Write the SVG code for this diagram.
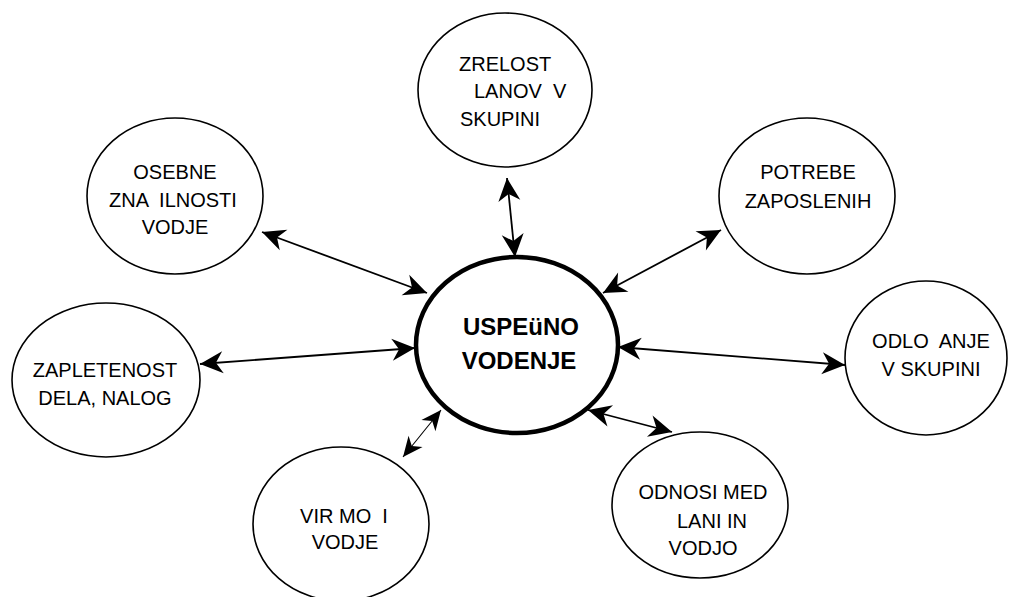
<svg xmlns="http://www.w3.org/2000/svg" width="1009" height="597" viewBox="0 0 1009 597">
<style>
.n{fill:#fff;stroke:#000;stroke-width:1.6}
.c{fill:#fff;stroke:#000;stroke-width:4.5}
text{font-family:"Liberation Sans",Arial,sans-serif;font-size:20px;fill:#000;white-space:pre}
.m{text-anchor:middle}
.b{font-weight:bold;font-size:24px;text-anchor:middle}
.l{fill:none;stroke:#000;stroke-width:1.8;marker-start:url(#a);marker-end:url(#a)}
.s{fill:none;stroke:#000;stroke-width:1.1;marker-start:url(#a2);marker-end:url(#a2)}
</style>
<defs>
<marker id="a" markerUnits="userSpaceOnUse" orient="auto-start-reverse" refX="0" refY="0" markerWidth="40" markerHeight="40" overflow="visible">
<path d="M0,0 L-23,-11 L-16,0 L-23,11 Z" fill="#000"/>
</marker>
<marker id="a2" markerUnits="userSpaceOnUse" orient="auto-start-reverse" refX="0" refY="0" markerWidth="40" markerHeight="40" overflow="visible">
<path d="M0,0 L-20,-9 L-14,0 L-20,9 Z" fill="#000"/>
</marker>
</defs>
<rect width="1009" height="597" fill="#fff"/>
<g id="connectors">
<line class="l" x1="507" y1="178" x2="515" y2="257"/>
<line class="l" x1="262" y1="232" x2="427" y2="293"/>
<line class="l" x1="721" y1="230" x2="603" y2="293"/>
<line class="l" x1="618" y1="347" x2="845" y2="365"/>
<line class="l" x1="588" y1="410" x2="672" y2="432"/>
<line class="s" x1="403" y1="457" x2="441" y2="410"/>
<line class="l" x1="200" y1="364" x2="415" y2="348"/>
</g>
<g id="center">
<ellipse class="c" cx="517" cy="345" rx="101" ry="88"/>
<text class="b" x="521" y="335">USPEüNO</text>
<text class="b" x="519" y="369">VODENJE</text>
</g>
<g id="zrelost">
<ellipse class="n" cx="505" cy="90" rx="87" ry="77"/>
<text x="459" y="71">ZRELOST</text>
<text x="474" y="98">LANOV  V</text>
<text x="460" y="126">SKUPINI</text>
</g>
<g id="osebne">
<ellipse class="n" cx="175" cy="196" rx="88" ry="78"/>
<text class="m" x="175" y="179">OSEBNE</text>
<text class="m" x="173" y="207">ZNA  ILNOSTI</text>
<text class="m" x="175" y="234">VODJE</text>
</g>
<g id="potrebe">
<ellipse class="n" cx="807" cy="196" rx="88" ry="78"/>
<text class="m" x="808" y="179">POTREBE</text>
<text class="m" x="808" y="208">ZAPOSLENIH</text>
</g>
<g id="odlozanje">
<ellipse class="n" cx="926" cy="358" rx="81" ry="77"/>
<text class="m" x="931" y="348">ODLO  ANJE</text>
<text class="m" x="931" y="376">V SKUPINI</text>
</g>
<g id="odnosi">
<ellipse class="n" cx="700" cy="505" rx="88" ry="73"/>
<text class="m" x="703" y="499">ODNOSI MED</text>
<text x="677" y="528">LANI IN</text>
<text class="m" x="703" y="555">VODJO</text>
</g>
<g id="virmoci">
<ellipse class="n" cx="341" cy="524" rx="88" ry="77"/>
<text class="m" x="344" y="523">VIR MO  I</text>
<text class="m" x="345" y="549">VODJE</text>
</g>
<g id="zapletenost">
<ellipse class="n" cx="106" cy="380" rx="94" ry="77"/>
<text class="m" x="105" y="377">ZAPLETENOST</text>
<text class="m" x="105" y="405">DELA, NALOG</text>
</g>
</svg>
